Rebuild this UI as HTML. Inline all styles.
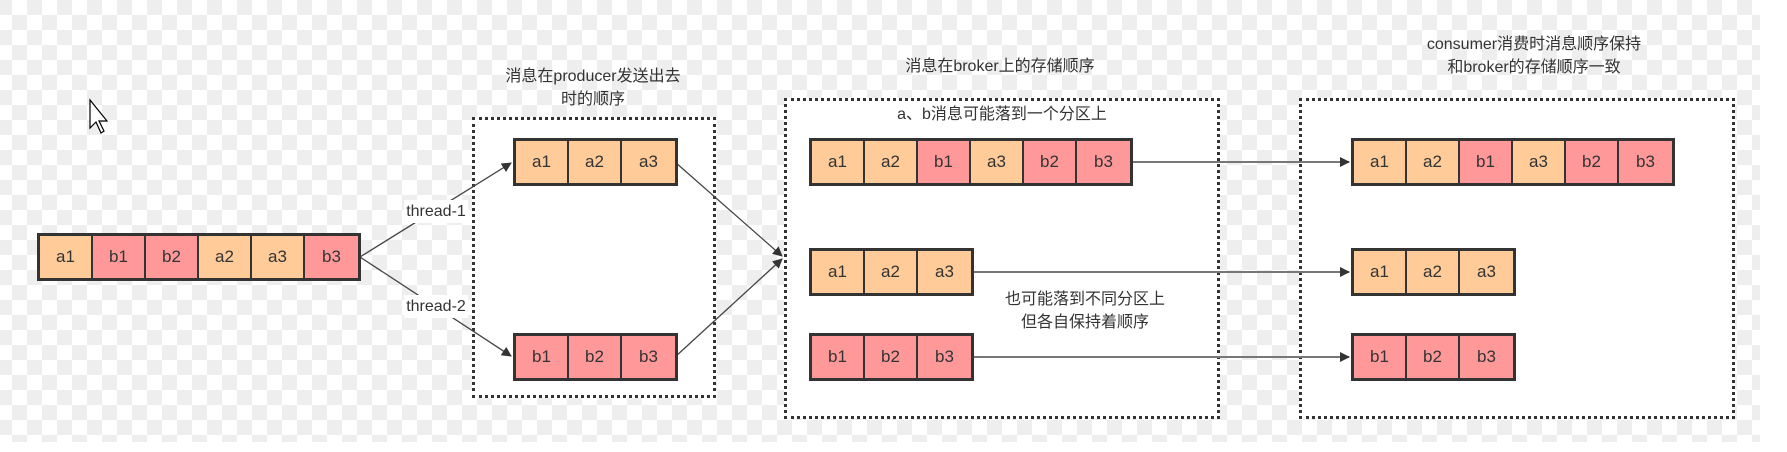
<!DOCTYPE html>
<html><head><meta charset="utf-8"><style>
html,body{margin:0;padding:0}
body{width:1787px;height:452px;position:relative;overflow:hidden;font-family:"Liberation Sans","Noto Sans CJK SC",sans-serif;color:#333;
background-color:#fff;
background-image:linear-gradient(45deg,#eee 25%,transparent 25%,transparent 75%,#eee 75%),linear-gradient(45deg,#eee 25%,transparent 25%,transparent 75%,#eee 75%);
background-size:30px 30px;background-position:12px 0,27px 15px;}
.box{position:absolute;background:#fff;border:3px dotted #333;box-sizing:border-box}
.row{position:absolute;display:flex;border:3px solid #333;box-sizing:border-box;height:48px}
.row div{width:53px;box-sizing:border-box;border-right:2px solid #333;display:flex;align-items:center;justify-content:center;font-size:17px}
.row div:last-child{border-right:none}
.a{background:#FFCC99}.b{background:#FF9999}
.t{position:absolute;font-size:16px;text-align:center;line-height:23px;white-space:nowrap;transform:translateX(-50%)}
</style></head><body>
<div style="position:absolute;left:1760px;top:0;width:27px;height:452px;background:#fff"></div>
<div style="position:absolute;left:0;top:442px;width:1787px;height:10px;background:#fff"></div>
<div class="box" style="left:472px;top:117px;width:244px;height:281px"></div>
<div class="box" style="left:784px;top:98px;width:436px;height:321px"></div>
<div class="box" style="left:1299px;top:98px;width:436px;height:321px"></div>

<svg width="1787" height="452" style="position:absolute;left:0;top:0">
<defs><marker id="m" markerWidth="10" markerHeight="10" refX="9" refY="5" orient="auto" markerUnits="userSpaceOnUse"><path d="M0,0 L10,5 L0,10 z" fill="#333"/></marker></defs>
<g stroke="#444" stroke-width="1.3" fill="none">
<line x1="360" y1="257" x2="511" y2="163" marker-end="url(#m)"/>
<line x1="360" y1="257" x2="511" y2="356" marker-end="url(#m)"/>
<line x1="675" y1="162" x2="782" y2="256" marker-end="url(#m)"/>
<line x1="675" y1="357" x2="782" y2="259" marker-end="url(#m)"/>
</g>
<g stroke="#777" stroke-width="2" fill="none">
<line x1="1128" y1="162" x2="1349" y2="162" marker-end="url(#m)"/>
<line x1="969" y1="272" x2="1349" y2="272" marker-end="url(#m)"/>
<line x1="969" y1="357" x2="1349" y2="357" marker-end="url(#m)"/>
</g>
<path d="M90,100 L90,128 L96,122 L101,133 L104,131 L99,121 L107,121 Z" fill="#fff" stroke="#000" stroke-width="1.2"/>
</svg>

<div class="t" style="left:436px;top:200px;background:#fff;padding:0 2px">thread-1</div>
<div class="t" style="left:436px;top:295px;background:#fff;padding:0 2px">thread-2</div>
<div class="t" style="left:593px;top:65px">消息在producer发送出去<br>时的顺序</div>
<div class="t" style="left:1000px;top:55px">消息在broker上的存储顺序</div>
<div class="t" style="left:1002px;top:103px">a、b消息可能落到一个分区上</div>
<div class="t" style="left:1085px;top:288px">也可能落到不同分区上<br>但各自保持着顺序</div>
<div class="t" style="left:1534px;top:33px">consumer消费时消息顺序保持<br>和broker的存储顺序一致</div>

<div class="row" style="left:37px;top:233px"><div class="a">a1</div><div class="b">b1</div><div class="b">b2</div><div class="a">a2</div><div class="a">a3</div><div class="b">b3</div></div>
<div class="row" style="left:513px;top:138px"><div class="a">a1</div><div class="a">a2</div><div class="a">a3</div></div>
<div class="row" style="left:513px;top:333px"><div class="b">b1</div><div class="b">b2</div><div class="b">b3</div></div>
<div class="row" style="left:809px;top:138px"><div class="a">a1</div><div class="a">a2</div><div class="b">b1</div><div class="a">a3</div><div class="b">b2</div><div class="b">b3</div></div>
<div class="row" style="left:809px;top:248px"><div class="a">a1</div><div class="a">a2</div><div class="a">a3</div></div>
<div class="row" style="left:809px;top:333px"><div class="b">b1</div><div class="b">b2</div><div class="b">b3</div></div>
<div class="row" style="left:1351px;top:138px"><div class="a">a1</div><div class="a">a2</div><div class="b">b1</div><div class="a">a3</div><div class="b">b2</div><div class="b">b3</div></div>
<div class="row" style="left:1351px;top:248px"><div class="a">a1</div><div class="a">a2</div><div class="a">a3</div></div>
<div class="row" style="left:1351px;top:333px"><div class="b">b1</div><div class="b">b2</div><div class="b">b3</div></div>
</body></html>
